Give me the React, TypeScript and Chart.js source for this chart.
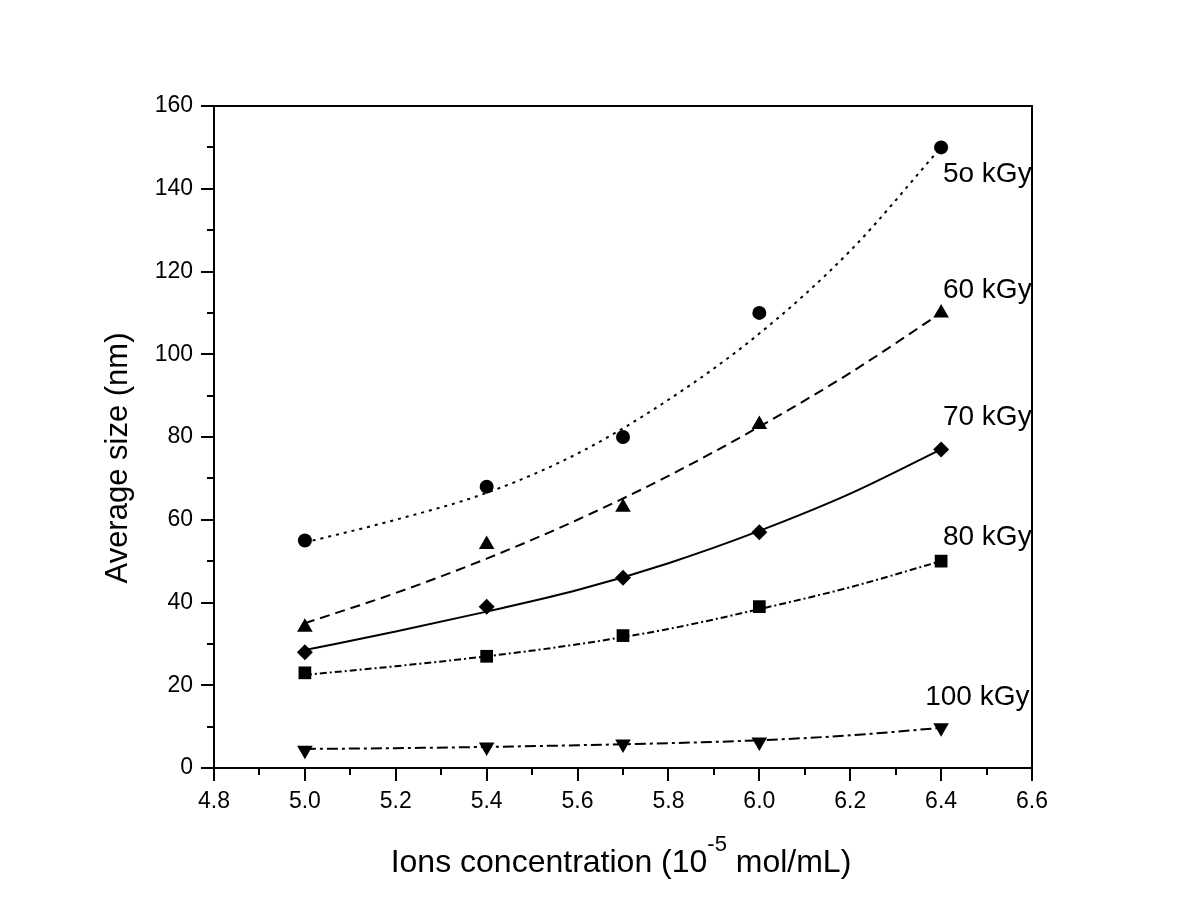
import React, { useEffect, useRef } from 'react';
import { Chart, registerables } from 'chart.js';

Chart.register(...registerables);

// Measured points
const pointX = [5.0, 5.4, 5.7, 6.0, 6.4];
const size50 = [55, 68, 80, 110, 150];
const size60 = [34, 54, 63, 83, 110];
const size70 = [28, 39, 46, 57, 77];
const size80 = [23, 27, 32, 39, 50];
const size100 = [4.3, 5.1, 5.8, 6.3, 9.7];

// Fitted curves
const fitX = [5.0, 5.2, 5.4, 5.6, 5.8, 6.0, 6.2, 6.4];
const fit50 = [54.5, 60, 66.5, 76, 89, 105, 125, 150];
const fit60 = [35, 42.3, 50.6, 60, 70.6, 82.5, 95.5, 110];
const fit70 = [28.5, 33, 37.8, 43, 49.5, 57.3, 66.3, 77];
const fit80 = [22.5, 24.6, 27, 29.9, 33.6, 38.4, 43.7, 50];
const fit100 = [4.6, 4.8, 5.1, 5.5, 6.0, 6.7, 7.9, 9.7];

// Series labels and their anchors (data units: left edge, baseline)
const seriesLabels = ['5o kGy', '60 kGy', '70 kGy', '80 kGy', '100 kGy'];
const labelX = [6.404, 6.404, 6.404, 6.404, 6.365];
const labelY = [141.6, 113.6, 82.9, 53.9, 15.2];

// Axis ticks
const xMin = 4.8;
const xMax = 6.6;
const xStep = 0.2;
const xMinorTicks = [4.9, 5.1, 5.3, 5.5, 5.7, 5.9, 6.1, 6.3, 6.5];
const yMin = 0;
const yMax = 160;
const yStep = 20;
const yMinorTicks = [10, 30, 50, 70, 90, 110, 130, 150];

const yTitle = 'Average size (nm)';
const xTitleMain = 'Ions concentration (10';
const xTitleSup = '-5';
const xTitleEnd = ' mol/mL)';

const FONT = '"Liberation Sans", Arial, Helvetica, sans-serif';

const toPts = (xs: number[], ys: number[]) => xs.map((x, i) => ({ x, y: ys[i] }));

const pointSets = [size50, size60, size70, size80, size100];
const fitSets = [fit50, fit60, fit70, fit80, fit100];
const styles = [
  { pointStyle: 'circle', radius: 7, rotation: 0, dash: [3, 5] },
  { pointStyle: 'triangle', radius: 9, rotation: 0, dash: [10, 6] },
  { pointStyle: 'rectRot', radius: 8, rotation: 0, dash: [] as number[] },
  { pointStyle: 'rect', radius: 9, rotation: 0, dash: [7, 3, 2, 3] },
  { pointStyle: 'triangle', radius: 9, rotation: 180, dash: [11, 4, 3, 4] },
];

const framePlugin = {
  id: 'framePlugin',
  afterDraw(chart: any) {
    const { ctx, chartArea: a, scales } = chart;
    const xs = scales.x;
    const ys = scales.y;
    ctx.save();
    ctx.strokeStyle = '#000';
    ctx.lineWidth = 2;
    ctx.strokeRect(a.left, a.top, a.right - a.left, a.bottom - a.top);
    ctx.beginPath();
    yMinorTicks.forEach((v) => {
      const py = Math.round(ys.getPixelForValue(v));
      ctx.moveTo(a.left - 7, py);
      ctx.lineTo(a.left, py);
    });
    xMinorTicks.forEach((v) => {
      const px = Math.round(xs.getPixelForValue(v));
      ctx.moveTo(px, a.bottom);
      ctx.lineTo(px, a.bottom + 7);
    });
    ctx.stroke();

    ctx.fillStyle = '#000';
    // series labels
    ctx.font = `28px ${FONT}`;
    ctx.textAlign = 'left';
    ctx.textBaseline = 'alphabetic';
    seriesLabels.forEach((t, i) => {
      ctx.fillText(t, xs.getPixelForValue(labelX[i]), ys.getPixelForValue(labelY[i]));
    });

    // y title
    ctx.save();
    ctx.font = `31px ${FONT}`;
    ctx.translate(127, 458);
    ctx.rotate(-Math.PI / 2);
    ctx.textAlign = 'center';
    ctx.fillText(yTitle, 0, 0);
    ctx.restore();

    // x title with superscript
    const mainFont = `32px ${FONT}`;
    const supFont = `22px ${FONT}`;
    ctx.font = mainFont;
    const w1 = ctx.measureText(xTitleMain).width;
    const w3 = ctx.measureText(xTitleEnd).width;
    ctx.font = supFont;
    const w2 = ctx.measureText(xTitleSup).width;
    const total = w1 + w2 + w3;
    const cx = 621;
    const base = 872;
    let sx = cx - total / 2;
    ctx.textAlign = 'left';
    ctx.font = mainFont;
    ctx.fillText(xTitleMain, sx, base);
    sx += w1;
    ctx.font = supFont;
    ctx.fillText(xTitleSup, sx, base - 21);
    sx += w2;
    ctx.font = mainFont;
    ctx.fillText(xTitleEnd, sx, base);
    ctx.restore();
  },
};

export default function App() {
  const ref = useRef<HTMLCanvasElement | null>(null);

  useEffect(() => {
    document.body.style.margin = '0';
    if (!ref.current) return;
    Chart.defaults.font.family = FONT;
    Chart.defaults.color = '#000';

    const markerDatasets = pointSets.map((vals, i) => ({
      type: 'scatter' as const,
      data: toPts(pointX, vals),
      showLine: false,
      pointStyle: styles[i].pointStyle,
      pointRadius: styles[i].radius,
      pointRotation: styles[i].rotation,
      pointBackgroundColor: '#000',
      pointBorderColor: '#000',
      pointBorderWidth: 0,
      order: 0,
    }));
    const fitDatasets = fitSets.map((vals, i) => ({
      type: 'scatter' as const,
      data: toPts(fitX, vals),
      showLine: true,
      borderColor: '#000',
      borderWidth: 2,
      borderDash: styles[i].dash,
      pointRadius: 0,
      cubicInterpolationMode: 'monotone' as const,
      fill: false,
      order: 1,
    }));

    const chart = new Chart(ref.current, {
      type: 'scatter',
      data: { datasets: [...markerDatasets, ...fitDatasets] as any },
      options: {
        responsive: false,
        animation: false,
        devicePixelRatio: 1,
        layout: { padding: { left: 0, right: 168, top: 106, bottom: 0 } },
        plugins: { legend: { display: false }, tooltip: { enabled: false } },
        scales: {
          x: {
            type: 'linear',
            min: xMin,
            max: xMax,
            ticks: {
              stepSize: xStep,
              font: { size: 23 },
              color: '#000',
              padding: 7,
              maxRotation: 0,
              callback: (v: any) => Number(v).toFixed(1),
            },
            grid: {
              display: true,
              drawOnChartArea: false,
              drawTicks: true,
              tickLength: 13,
              tickWidth: 2,
              tickColor: '#000',
              color: '#000',
              lineWidth: 2,
            },
            border: { display: true, color: '#000', width: 2 },
            afterFit: (s: any) => {
              s.height = 153;
            },
          },
          y: {
            type: 'linear',
            min: yMin,
            max: yMax,
            ticks: {
              stepSize: yStep,
              font: { size: 23 },
              color: '#000',
              padding: 8,
              callback: (v: any) => String(v),
            },
            grid: {
              display: true,
              drawOnChartArea: false,
              drawTicks: true,
              tickLength: 13,
              tickWidth: 2,
              tickColor: '#000',
              color: '#000',
              lineWidth: 2,
            },
            border: { display: true, color: '#000', width: 2 },
            afterFit: (s: any) => {
              s.width = 214;
            },
          },
        },
      },
      plugins: [framePlugin],
    });
    return () => chart.destroy();
  }, []);

  return (
    <div style={{ width: 1200, height: 921, background: '#fff' }}>
      <canvas ref={ref} width={1200} height={921} style={{ display: 'block' }} />
    </div>
  );
}
